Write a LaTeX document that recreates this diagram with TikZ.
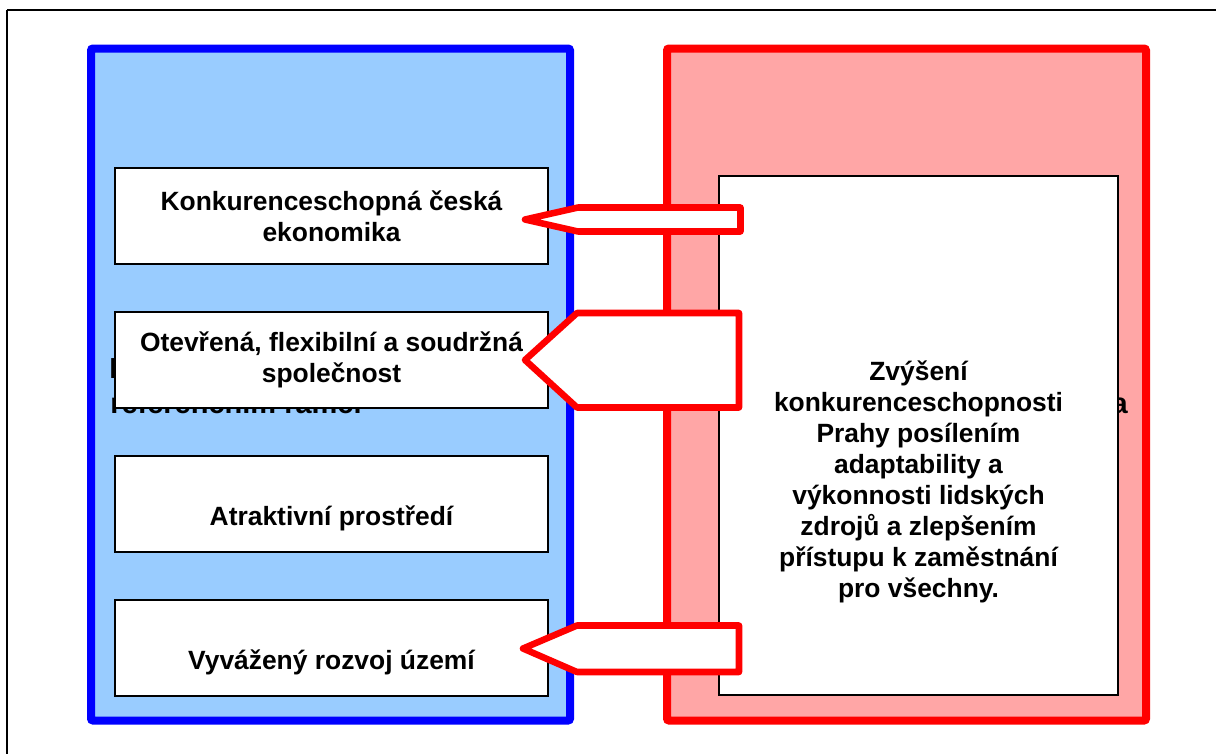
\documentclass[tikz,border=0pt]{standalone}
\usepackage{fontspec}
\setmainfont{Liberation Sans}
\definecolor{lblue}{HTML}{99CCFF}
\definecolor{lred}{HTML}{FFA6A6}
\tikzset{ col/.style  = { line width    = 6pt
                        , rounded corners = 1.5pt
                        },
          pbox/.style = { draw
                        , fill         = white
                        , line width   = 1.1pt
                        , inner sep    = 0pt
                        , minimum width  = 324.75pt
                        , minimum height = 72pt
                        , align        = center
                        , font = \bfseries\fontsize{19.8}{23.25}\selectfont
                        },
          low/.style  = { text height = 36pt
                        , text depth  = 4.5pt
                        },
          gbox/.style = { draw
                        , fill         = white
                        , line width   = 1.3pt
                        , minimum width  = 299.25pt
                        , minimum height = 389.25pt
                        },
          gtxt/.style = { align = center
                        , inner sep = 0pt
                        , font = \bfseries\fontsize{19.8}{23.25}\selectfont
                        },
          hid/.style  = { inner sep = 0pt
                        , font = \bfseries\fontsize{21.75}{26.25}\selectfont
                        },
          arr/.style  = { draw = red
                        , fill = white
                        , line width = 4.9pt
                        , line join  = round
                        }
        }
\begin{document}
\begin{tikzpicture}[x=0.75pt,y=-0.75pt]
            \useasboundingbox (0,0) rectangle (1216,754);
            % frame
            \draw[line width=1.8pt] (1216,10) -- (7,10);
            \draw[line width=1.1pt] (7,10) -- (7,754);
            % columns
            \draw[col, draw=blue, fill=lblue] (91,48.5) rectangle (570,720.5);
            \draw[col, draw=red, fill=lred] (667,48.5) rectangle (1146,720.5);
            % titles behind the boxes
            \node[hid, anchor=base west] (nsrr1) at (109,378) {Priority v Národním strategickém};
            \node[hid, anchor=base west] (nsrr2) at (110,413) {referenčním rámci};
            \node[hid, anchor=base east] (opa) at (1128,413) {OP Praha -- Adaptabilita};
            % priorities
            \node[pbox] (p1) at (331.5,216) {Konkurenceschopná česká\\ekonomika};
            \node[pbox] (p2) at (331.5,360) {Otevřená, flexibilní a soudržná\\společnost};
            \node[pbox, low] (p3) at (331.5,504) {Atraktivní prostředí};
            \node[pbox, low] (p4) at (331.5,648) {Vyvážený rozvoj území};
            % global goal
            \node[gbox] (g) at (918.5,435.5) {};
            \node[gtxt] (gt) at (918.5,482) {Zvýšení\\konkurenceschopnosti\\Prahy posílením\\adaptability a\\výkonnosti lidských\\zdrojů a zlepšením\\přístupu k zaměstnání\\pro všechny.};
            % arrows
            \draw[arr] (740.5,207.5) -- (578,207.5) -- (525,219.5) -- (578,231.5) -- (740.5,231.5) -- cycle;
            \draw[arr] (739,313) -- (577,313) -- (525,360) -- (577,407.5) -- (739,407.5) -- cycle;
            \draw[arr] (739,625.5) -- (577,625.5) -- (523,648.5) -- (577,672) -- (739,672) -- cycle;
\end{tikzpicture}
\end{document}
